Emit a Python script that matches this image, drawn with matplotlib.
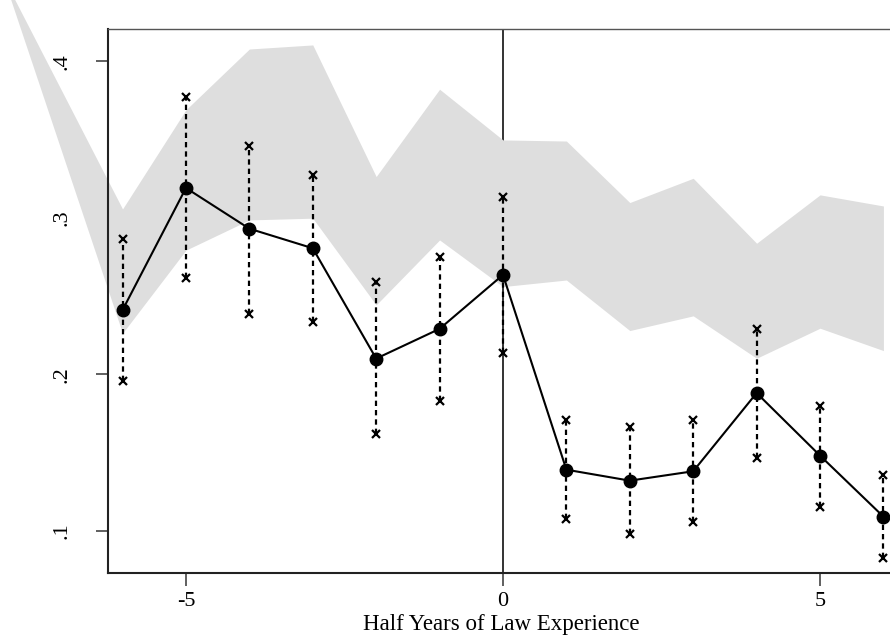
import matplotlib
matplotlib.use("Agg")
import matplotlib.pyplot as plt

plt.rcParams["font.family"] = ["Liberation Serif", "DejaVu Serif"]

# half-year event time
x = [-6, -5, -4, -3, -2, -1, 0, 1, 2, 3, 4, 5, 6]
est = [0.241, 0.319, 0.293, 0.2805, 0.210, 0.229, 0.2635,
       0.139, 0.132, 0.138, 0.188, 0.148, 0.109]
ci_hi = [0.2864, 0.377, 0.346, 0.327, 0.259, 0.275, 0.313,
         0.171, 0.166, 0.171, 0.229, 0.180, 0.1357]
ci_lo = [0.1957, 0.2613, 0.2385, 0.2336, 0.1617, 0.1832, 0.2134,
         0.1075, 0.098, 0.1054, 0.1463, 0.1154, 0.0824]

# shaded band (starts off the plot region at -8, as in the original)
band_x = [-8, -6, -5, -4, -3, -2, -1, 0, 1, 2, 3, 4, 5, 6]
band_hi = [0.463, 0.3056, 0.369, 0.4078, 0.4104, 0.3263, 0.3821, 0.3497,
           0.349, 0.3097, 0.3252, 0.2837, 0.3146, 0.3075]
band_lo = [0.468, 0.2262, 0.2793, 0.2986, 0.2997, 0.2443, 0.2858, 0.256,
           0.2602, 0.2279, 0.2373, 0.2102, 0.2294, 0.2151]

xticks = [-5, 0, 5]
xticklabels = ["-5", "0", "5"]
yticks = [0.1, 0.2, 0.3, 0.4]
yticklabels = [".1", ".2", ".3", ".4"]

fig = plt.figure(figsize=(8.9, 6.41), dpi=100)
ax = fig.add_axes([0.1213, 0.1061, 0.8927, 0.8487])

ax.axvline(0, color="#333333", lw=1.4, zorder=1)
ax.fill_between(band_x, band_lo, band_hi, color="#dedede", lw=0,
                clip_on=False, zorder=2)

for xi, lo, hi in zip(x, ci_lo, ci_hi):
    ax.plot([xi, xi], [lo, hi], color="black", lw=1.6,
            linestyle=(0, (2.4, 1.8)), zorder=3, clip_on=False)
ax.plot(x, ci_hi, "x", color="black", ms=5.5, mew=1.6, zorder=4, clip_on=False)
ax.plot(x, ci_lo, "x", color="black", ms=5.5, mew=1.6, zorder=4, clip_on=False)
ax.plot(x, est, "-o", color="black", lw=1.5, ms=9, zorder=5, clip_on=False)

ax.set_xlim(-6.23, 6.3)
ax.set_ylim(0.0730, 0.4206)

ax.set_xticks(xticks)
ax.set_xticklabels(xticklabels)
ax.set_yticks(yticks)
ax.set_yticklabels(yticklabels, rotation=90, va="center")
ax.tick_params(axis="both", direction="out", length=9, width=1.2,
               color="#444444", labelsize=16)
ax.tick_params(axis="x", pad=5)
ax.tick_params(axis="y", pad=17)

for side in ["left", "bottom"]:
    ax.spines[side].set_linewidth(1.5)
    ax.spines[side].set_color("#222222")
ax.spines["top"].set_linewidth(1.0)
ax.spines["top"].set_color("#555555")
ax.spines["right"].set_visible(False)

ax.set_xlabel("Half Years of Law Experience", fontsize=16.5, labelpad=0)
ax.xaxis.set_label_coords((503 - 108) / 794.5 - 0.002, -0.076)

fig.savefig("out.png", dpi=100)
